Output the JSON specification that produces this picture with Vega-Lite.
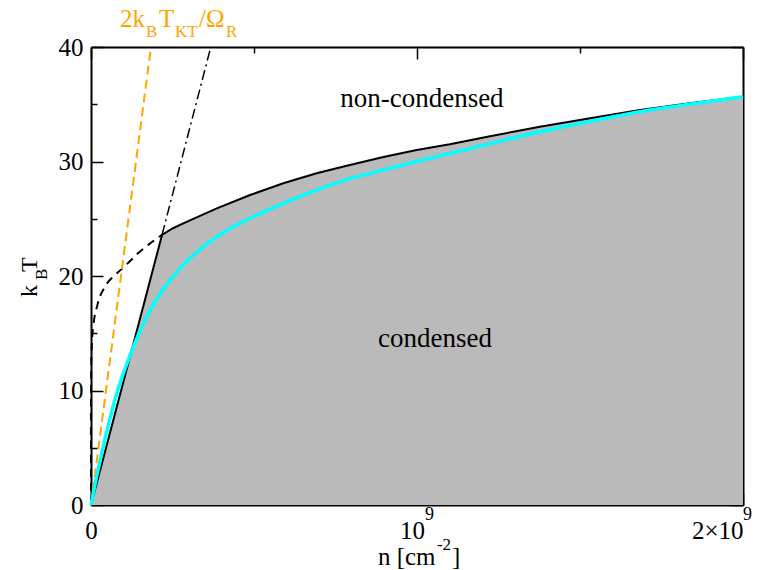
{
  "$schema": "https://vega.github.io/schema/vega-lite/v6.json",
  "width": 652,
  "height": 458,
  "autosize": {"type": "none"},
  "padding": {"left": 91, "top": 47, "right": 18, "bottom": 65},
  "background": "white",
  "config": {
    "view": {"stroke": null},
    "axis": {
      "domainColor": "black", "domainWidth": 2, "tickColor": "black", "tickWidth": 1.5,
      "grid": false, "labelFont": "Liberation Serif", "labelFontSize": 25, "labelColor": "black",
      "title": null, "zindex": 2, "labelOverlap": false, "labelFlush": false, "labelBound": false
    }
  },
  "datasets": {
    "upper": [
      {"n": 0, "T": 0}, {"n": 218000000, "T": 23.6}, {"n": 250000000, "T": 24.15}, {"n": 283000000, "T": 24.6},
      {"n": 386000000, "T": 25.9}, {"n": 488000000, "T": 27.07}, {"n": 590000000, "T": 28.1},
      {"n": 692000000, "T": 28.97}, {"n": 794000000, "T": 29.7}, {"n": 897000000, "T": 30.4},
      {"n": 999000000, "T": 31.0}, {"n": 1101000000, "T": 31.5}, {"n": 1224000000, "T": 32.2},
      {"n": 1377000000, "T": 33.04}, {"n": 1531000000, "T": 33.77}, {"n": 1684000000, "T": 34.5},
      {"n": 1837000000, "T": 35.08}, {"n": 2000000000, "T": 35.66}
    ],
    "lowT": [
      {"n": 0, "T": 0}, {"n": 200000, "T": 8}, {"n": 800000, "T": 12}, {"n": 3000000, "T": 14.3},
      {"n": 7000000, "T": 15.6}, {"n": 20000000, "T": 17.5}, {"n": 43000000, "T": 19.07},
      {"n": 70000000, "T": 20.0}, {"n": 94000000, "T": 20.6}, {"n": 145000000, "T": 22.0},
      {"n": 218000000, "T": 23.6}
    ],
    "linear": [{"n": 218000000, "T": 23.6}, {"n": 367500000, "T": 40}],
    "kt": [{"n": 0, "T": 0}, {"n": 184000000, "T": 40}],
    "cyan": [
      {"n": 0, "T": 0}, {"n": 21500000, "T": 3.06}, {"n": 52000000, "T": 6.84}, {"n": 83000000, "T": 10.1},
      {"n": 122000000, "T": 13.25}, {"n": 170000000, "T": 16.4}, {"n": 216000000, "T": 18.6},
      {"n": 273000000, "T": 20.67}, {"n": 334000000, "T": 22.3}, {"n": 386000000, "T": 23.43},
      {"n": 488000000, "T": 25.04}, {"n": 590000000, "T": 26.35}, {"n": 692000000, "T": 27.5},
      {"n": 794000000, "T": 28.5}, {"n": 897000000, "T": 29.26}, {"n": 999000000, "T": 30.0},
      {"n": 1101000000, "T": 30.7}, {"n": 1224000000, "T": 31.55}, {"n": 1377000000, "T": 32.6},
      {"n": 1531000000, "T": 33.5}, {"n": 1684000000, "T": 34.35}, {"n": 1837000000, "T": 35.0},
      {"n": 2000000000, "T": 35.66}
    ],
    "regions": [
      {"label": "non-condensed", "n": 1015000000, "T": 34.76},
      {"label": "condensed", "n": 1055000000, "T": 13.83}
    ],
    "one": [{}]
  },
  "resolve": {"axis": {"x": "independent", "y": "independent"}},
  "layer": [
    {
      "data": {"name": "upper"},
      "mark": {"type": "area", "color": "#bababa", "interpolate": "linear"},
      "encoding": {
        "x": {"field": "n", "type": "quantitative", "scale": {"domain": [0, 2000000000], "nice": false},
          "axis": {"orient": "bottom", "values": [0, 500000000, 1000000000, 1500000000, 2000000000],
            "labelExpr": "datum.value == 0 ? '0' : datum.value == 1000000000 ? '10' : datum.value == 2000000000 ? '2×10' : ''",
            "tickSize": {"condition": {"test": "datum.value % 1000000000 == 0", "value": -12}, "value": -6},
            "labelAlign": {"condition": {"test": "datum.value == 2000000000", "value": "right"}, "value": "center"},
            "labelOffset": {"condition": {"test": "datum.value == 1000000000", "value": -5}, "value": 0},
            "labelBaseline": "alphabetic", "labelPadding": 45}},
        "y": {"field": "T", "type": "quantitative", "scale": {"domain": [0, 40], "nice": false},
          "axis": {"orient": "left", "values": [0, 5, 10, 15, 20, 25, 30, 35, 40],
            "labelExpr": "datum.value % 10 == 0 ? datum.label : ''",
            "tickSize": {"condition": {"test": "datum.value % 10 == 0", "value": -12}, "value": -6},
            "labelPadding": 20}}
      }
    },
    {
      "data": {"name": "upper"},
      "mark": {"type": "line", "color": "black", "strokeWidth": 2},
      "encoding": {
        "x": {"field": "n", "type": "quantitative",
          "axis": {"orient": "top", "values": [0, 500000000, 1000000000, 1500000000, 2000000000], "labels": false,
            "tickSize": {"condition": {"test": "datum.value % 1000000000 == 0", "value": -12}, "value": -6}}},
        "y": {"field": "T", "type": "quantitative",
          "axis": {"orient": "right", "values": [0, 5, 10, 15, 20, 25, 30, 35, 40], "labels": false,
            "tickSize": {"condition": {"test": "datum.value % 10 == 0", "value": -12}, "value": -6}}}
      }
    },
    {
      "data": {"name": "lowT"},
      "mark": {"type": "line", "color": "black", "strokeWidth": 2, "strokeDash": [8, 6], "interpolate": "monotone"},
      "encoding": {"x": {"field": "n", "type": "quantitative", "axis": null}, "y": {"field": "T", "type": "quantitative", "axis": null}}
    },
    {
      "data": {"name": "linear"},
      "mark": {"type": "line", "color": "black", "strokeWidth": 1.5, "strokeDash": [10, 4, 2, 4]},
      "encoding": {"x": {"field": "n", "type": "quantitative", "axis": null}, "y": {"field": "T", "type": "quantitative", "axis": null}}
    },
    {
      "data": {"name": "kt"},
      "mark": {"type": "line", "color": "#ffa500", "strokeWidth": 2, "strokeDash": [9, 5]},
      "encoding": {"x": {"field": "n", "type": "quantitative", "axis": null}, "y": {"field": "T", "type": "quantitative", "axis": null}}
    },
    {
      "data": {"name": "cyan"},
      "mark": {"type": "line", "color": "#00ffff", "strokeWidth": 3.5, "interpolate": "monotone"},
      "encoding": {"x": {"field": "n", "type": "quantitative", "axis": null}, "y": {"field": "T", "type": "quantitative", "axis": null}}
    },
    {
      "data": {"name": "regions"},
      "mark": {"type": "text", "font": "Liberation Serif", "fontSize": 27, "color": "black", "align": "center", "baseline": "alphabetic"},
      "encoding": {"x": {"field": "n", "type": "quantitative", "axis": null}, "y": {"field": "T", "type": "quantitative", "axis": null}, "text": {"field": "label"}}
    },
    {
      "data": {"name": "one"},
      "mark": {"type": "text", "text": "9", "font": "Liberation Serif", "fontSize": 18, "color": "black", "align": "left", "baseline": "alphabetic", "dx": 8},
      "encoding": {"x": {"datum": 1000000000, "type": "quantitative", "axis": null}, "y": {"datum": -1.31, "type": "quantitative", "axis": null}}
    },
    {
      "data": {"name": "one"},
      "mark": {"type": "text", "text": "9", "font": "Liberation Serif", "fontSize": 18, "color": "black", "align": "left", "baseline": "alphabetic", "dx": 0},
      "encoding": {"x": {"datum": 2000000000, "type": "quantitative", "axis": null}, "y": {"datum": -1.31, "type": "quantitative", "axis": null}}
    },
    {
      "data": {"name": "one"},
      "mark": {"type": "text", "text": "n [cm", "font": "Liberation Serif", "fontSize": 25, "color": "black", "align": "left", "baseline": "alphabetic"},
      "encoding": {"x": {"datum": 880000000, "type": "quantitative", "axis": null}, "y": {"datum": -5.24, "type": "quantitative", "axis": null}}
    },
    {
      "data": {"name": "one"},
      "mark": {"type": "text", "text": "-2", "font": "Liberation Serif", "fontSize": 17, "color": "black", "align": "left", "baseline": "alphabetic"},
      "encoding": {"x": {"datum": 1061000000, "type": "quantitative", "axis": null}, "y": {"datum": -3.93, "type": "quantitative", "axis": null}}
    },
    {
      "data": {"name": "one"},
      "mark": {"type": "text", "text": "]", "font": "Liberation Serif", "fontSize": 25, "color": "black", "align": "left", "baseline": "alphabetic"},
      "encoding": {"x": {"datum": 1107000000, "type": "quantitative", "axis": null}, "y": {"datum": -5.24, "type": "quantitative", "axis": null}}
    },
    {
      "data": {"name": "one"},
      "mark": {"type": "text", "text": "k", "font": "Liberation Serif", "fontSize": 24, "color": "black", "align": "left", "baseline": "alphabetic", "angle": 270},
      "encoding": {"x": {"datum": -165600000, "type": "quantitative", "axis": null}, "y": {"datum": 18.17, "type": "quantitative", "axis": null}}
    },
    {
      "data": {"name": "one"},
      "mark": {"type": "text", "text": "B", "font": "Liberation Serif", "fontSize": 17, "color": "black", "align": "left", "baseline": "alphabetic", "angle": 270},
      "encoding": {"x": {"datum": -135000000, "type": "quantitative", "axis": null}, "y": {"datum": 19.65, "type": "quantitative", "axis": null}}
    },
    {
      "data": {"name": "one"},
      "mark": {"type": "text", "text": "T", "font": "Liberation Serif", "fontSize": 24, "color": "black", "align": "left", "baseline": "alphabetic", "angle": 270},
      "encoding": {"x": {"datum": -165600000, "type": "quantitative", "axis": null}, "y": {"datum": 20.35, "type": "quantitative", "axis": null}}
    },
    {
      "data": {"name": "one"},
      "mark": {"type": "text", "text": "2k", "font": "Liberation Serif", "fontSize": 25, "color": "#ffa500", "align": "left", "baseline": "alphabetic"},
      "encoding": {"x": {"datum": 88960000, "type": "quantitative", "axis": null}, "y": {"datum": 41.75, "type": "quantitative", "axis": null}}
    },
    {
      "data": {"name": "one"},
      "mark": {"type": "text", "text": "B", "font": "Liberation Serif", "fontSize": 17, "color": "#ffa500", "align": "left", "baseline": "alphabetic"},
      "encoding": {"x": {"datum": 168700000, "type": "quantitative", "axis": null}, "y": {"datum": 40.83, "type": "quantitative", "axis": null}}
    },
    {
      "data": {"name": "one"},
      "mark": {"type": "text", "text": "T", "font": "Liberation Serif", "fontSize": 25, "color": "#ffa500", "align": "left", "baseline": "alphabetic"},
      "encoding": {"x": {"datum": 208600000, "type": "quantitative", "axis": null}, "y": {"datum": 41.75, "type": "quantitative", "axis": null}}
    },
    {
      "data": {"name": "one"},
      "mark": {"type": "text", "text": "KT", "font": "Liberation Serif", "fontSize": 17, "color": "#ffa500", "align": "left", "baseline": "alphabetic"},
      "encoding": {"x": {"datum": 257700000, "type": "quantitative", "axis": null}, "y": {"datum": 40.83, "type": "quantitative", "axis": null}}
    },
    {
      "data": {"name": "one"},
      "mark": {"type": "text", "text": "/Ω", "font": "Liberation Serif", "fontSize": 25, "color": "#ffa500", "align": "left", "baseline": "alphabetic"},
      "encoding": {"x": {"datum": 331300000, "type": "quantitative", "axis": null}, "y": {"datum": 41.75, "type": "quantitative", "axis": null}}
    },
    {
      "data": {"name": "one"},
      "mark": {"type": "text", "text": "R", "font": "Liberation Serif", "fontSize": 17, "color": "#ffa500", "align": "left", "baseline": "alphabetic"},
      "encoding": {"x": {"datum": 414100000, "type": "quantitative", "axis": null}, "y": {"datum": 40.83, "type": "quantitative", "axis": null}}
    }
  ]
}
